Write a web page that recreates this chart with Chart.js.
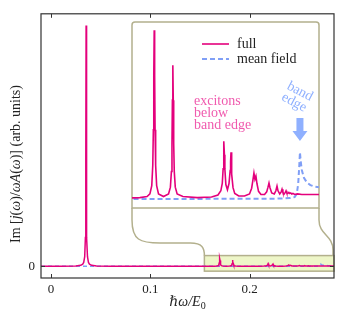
<!DOCTYPE html>
<html>
<head>
<meta charset="utf-8">
<script src="https://cdn.jsdelivr.net/npm/chart.js@4.4.0/dist/chart.umd.min.js"></script>
<style>
  html, body { margin: 0; padding: 0; background: #fff; }
  #wrap { position: relative; width: 337px; height: 314px; }
  #mainChart { position: absolute; left: 0; top: 0; }
  #insetChart { position: absolute; left: 132px; top: 22px; }
</style>
</head>
<body>
<div id="wrap">
  <canvas id="mainChart" width="337" height="314"></canvas>
  <canvas id="insetChart" width="187" height="186"></canvas>
</div>
<script>
// --- Data ---
const fullX = [-0.01, 0.010, 0.025, 0.030, 0.032, 0.033, 0.034, 0.0347, 0.0351, 0.0354, 0.0357, 0.0361, 0.0368, 0.0378, 0.0388, 0.041, 0.046, 0.060, 0.100,
  0.150, 0.160, 0.165, 0.167, 0.1683, 0.1690, 0.1694, 0.1697, 0.1700, 0.1703, 0.1706, 0.1710, 0.1717, 0.1730, 0.1765,
  0.1800, 0.1813, 0.1820, 0.1824, 0.1827, 0.1830, 0.1833, 0.1836, 0.1840, 0.1847, 0.1860, 0.1900, 0.2000,
  0.2100, 0.2145, 0.2165, 0.2175, 0.2181, 0.2184, 0.2187, 0.2190, 0.2193, 0.2200, 0.2211, 0.2222, 0.2230, 0.2233, 0.2236, 0.2239, 0.2242, 0.2250, 0.2262, 0.2290,
  0.2330, 0.2365, 0.2380, 0.2388, 0.2396, 0.2403, 0.2410, 0.2417, 0.2428, 0.2445,
  0.2470, 0.2485, 0.2494, 0.2501, 0.2508, 0.2520, 0.2538, 0.2549, 0.2557, 0.2564, 0.2576, 0.2586, 0.2592, 0.2598, 0.2607,
  0.2615, 0.2620, 0.2625, 0.2633, 0.2640, 0.2646, 0.2653, 0.2660, 0.2668, 0.2680, 0.2700, 0.2730, 0.2850];
const fullY = [0.0000, 0.0002, 0.0012, 0.004, 0.009, 0.016, 0.040, 0.12, 0.45, 1.000, 0.45, 0.12, 0.040, 0.016, 0.009, 0.004, 0.0012, 0.0004, 0.0002,
  0.0002, 0.0003, 0.0005, 0.0010, 0.0026, 0.0065, 0.0133, 0.0238, 0.0324, 0.0238, 0.0133, 0.0065, 0.0026, 0.0010, 0.0005,
  0.0010, 0.0023, 0.0053, 0.0107, 0.0190, 0.0257, 0.0190, 0.0107, 0.0053, 0.0023, 0.0010, 0.0005, 0.0003,
  0.0004, 0.0008, 0.0016, 0.0030, 0.0058, 0.0085, 0.0111, 0.0085, 0.0058, 0.0028, 0.0018, 0.0030, 0.0055, 0.0072, 0.0090, 0.0070, 0.0048, 0.0022, 0.0011, 0.0006,
  0.0006, 0.0010, 0.0021, 0.0035, 0.0050, 0.0038, 0.0044, 0.0030, 0.0015, 0.0009,
  0.0009, 0.0014, 0.0023, 0.0031, 0.0022, 0.0012, 0.0010, 0.0016, 0.0025, 0.0016, 0.0010, 0.0014, 0.0019, 0.0013, 0.0010,
  0.0013, 0.0016, 0.0012, 0.0011, 0.0013, 0.0011, 0.0012, 0.0010, 0.0011, 0.0009, 0.0010, 0.0009, 0.0009];

const meanX = [-0.01, 0.150, 0.255, 0.265, 0.268, 0.2695, 0.2705, 0.2712, 0.2717, 0.2722, 0.2730, 0.2745, 0.2765, 0.2790, 0.2820, 0.2850];
const meanY = [0.0000, 0.0000, 0.0001, 0.0002, 0.0004, 0.0010, 0.0030, 0.0062, 0.0090, 0.0074, 0.0056, 0.0041, 0.0032, 0.0027, 0.0024, 0.0023];

const xTicks = [0, 0.1, 0.2];
const yTicks = [0];

const mainXRange = [-0.01, 0.285];
const mainYRange = [-0.0486, 1.0486];
const zoomXRange = [0.1545, 0.285];     // highlighted window, also inset x range
const zoomYRange = [-0.0202, 0.0445];   // highlighted window height in main axes
const insetYRange = [-0.0017, 0.034];
const bandEdge = 0.2717;

// --- Styles ---
const fullColor = '#e4007c';
const meanColor = '#809ff6';
const frameColor = '#b3b08d';
const boxFill = '#eef6c8';
const pinkText = '#f05aae';
const blueText = '#8fb0ff';
const axisColor = '#333';
const serif = '"Liberation Serif", "DejaVu Serif", serif';

// inset placement on the page
const inset = { left: 132, top: 22, width: 187, height: 186 };

const toPts = (xs, ys) => xs.map((x, i) => ({ x: x, y: ys[i] }));

function measureRuns(ctx, runs) {
    let total = 0;
    runs.forEach(r => { ctx.font = r[1]; total += ctx.measureText(r[0]).width; });
    return total;
}

function drawRuns(ctx, runs, x, y) {
    // runs: [text, font, dy], drawn centred on x
    ctx.textAlign = 'left';
    let cx = x - measureRuns(ctx, runs) / 2;
    runs.forEach(r => {
        ctx.font = r[1];
        ctx.fillText(r[0], cx, y + (r[2] || 0));
        cx += ctx.measureText(r[0]).width;
    });
}

// --- Main axes decorations ---
const mainDeco = {
    id: 'mainDeco',
    beforeDatasetsDraw(chart) {
        const { ctx, scales: { x, y } } = chart;
        const x0 = x.getPixelForValue(zoomXRange[0]);
        const x1 = x.getPixelForValue(zoomXRange[1]);
        const y0 = y.getPixelForValue(zoomYRange[1]);
        const y1 = y.getPixelForValue(zoomYRange[0]);
        ctx.save();
        ctx.fillStyle = boxFill;
        ctx.fillRect(x0, y0, x1 - x0, y1 - y0);
        ctx.strokeStyle = frameColor;
        ctx.lineWidth = 1.5;
        ctx.strokeRect(x0, y0, x1 - x0, y1 - y0);
        ctx.restore();
    },
    afterDraw(chart) {
        const { ctx, chartArea: a, scales: { x, y } } = chart;
        ctx.save();

        // connectors from the inset to the highlighted window
        const bx0 = x.getPixelForValue(zoomXRange[0]);
        const bx1 = x.getPixelForValue(zoomXRange[1]);
        const by0 = y.getPixelForValue(zoomYRange[1]);
        const il = inset.left, ir = inset.left + inset.width, it = inset.top, ib = inset.top + inset.height;
        ctx.strokeStyle = frameColor;
        ctx.lineWidth = 1.5;
        ctx.beginPath();
        ctx.moveTo(il, ib);
        ctx.lineTo(il, ib + 12);
        ctx.bezierCurveTo(il, ib + 32, il + 8, ib + 35, il + 28, ib + 35);
        ctx.lineTo(bx0 - 14, ib + 35);
        ctx.bezierCurveTo(bx0 - 2, ib + 35, bx0, ib + 40, bx0, by0);
        ctx.stroke();
        ctx.beginPath();
        ctx.moveTo(ir, ib);
        ctx.lineTo(ir, ib + 12);
        ctx.bezierCurveTo(ir, ib + 27, bx1 - 1, ib + 27, bx1 - 1, ib + 42);
        ctx.lineTo(bx1 - 1, by0);
        ctx.stroke();

        // inset frame
        ctx.beginPath();
        ctx.roundRect(il, it, inset.width, inset.height, [3, 3, 0, 0]);
        ctx.stroke();

        // axes frame
        ctx.strokeStyle = axisColor;
        ctx.lineWidth = 1.2;
        ctx.strokeRect(a.left, a.top, a.right - a.left, a.bottom - a.top);

        // inward ticks
        ctx.lineWidth = 1;
        ctx.beginPath();
        xTicks.forEach(v => {
            const px = Math.round(x.getPixelForValue(v)) + 0.5;
            ctx.moveTo(px, a.bottom); ctx.lineTo(px, a.bottom - 4);
            ctx.moveTo(px, a.top); ctx.lineTo(px, a.top + 4);
        });
        yTicks.forEach(v => {
            const py = Math.round(y.getPixelForValue(v)) + 0.5;
            ctx.moveTo(a.left, py); ctx.lineTo(a.left + 4, py);
            ctx.moveTo(a.right, py); ctx.lineTo(a.right - 4, py);
        });
        ctx.stroke();

        // axis titles
        ctx.fillStyle = '#222';
        ctx.textBaseline = 'alphabetic';
        const rom = '14px ' + serif;
        const ita = 'italic 14px ' + serif;
        drawRuns(ctx, [['\u210Fω/E', ita], ['0', '10px ' + serif, 3]], (a.left + a.right) / 2, 306);

        // y title: "Im" ends just above the zero tick
        const yRuns = [['Im [', rom], ['j', ita], ['(', rom], ['ω', ita], [')/', rom], ['ωA', ita], ['(', rom], ['ω', ita], [')] (arb. units)', rom]];
        const len = measureRuns(ctx, yRuns);
        ctx.translate(20, 243 - len / 2);
        ctx.rotate(-Math.PI / 2);
        drawRuns(ctx, yRuns, 0, 0);
        ctx.restore();
    }
};

new Chart(document.getElementById('mainChart'), {
    type: 'line',
    data: {
        datasets: [
            { label: 'full', data: toPts(fullX, fullY), borderColor: fullColor, borderWidth: 1.5, pointRadius: 0, tension: 0 },
            { label: 'mean field', data: toPts(meanX, meanY), borderColor: meanColor, borderWidth: 1.5, borderDash: [4, 3], pointRadius: 0, tension: 0 }
        ]
    },
    options: {
        responsive: false,
        animation: false,
        layout: { padding: { left: 0, right: 3, top: 7, bottom: 0 } },
        plugins: { legend: { display: false }, tooltip: { enabled: false } },
        scales: {
            x: {
                type: 'linear', min: mainXRange[0], max: mainXRange[1],
                border: { display: false },
                grid: { display: false, drawTicks: false },
                afterBuildTicks: s => { s.ticks = xTicks.map(v => ({ value: v })); },
                afterFit: s => { s.height = 36; },
                ticks: { padding: 4, color: '#222', maxRotation: 0, autoSkip: false, font: { family: serif, size: 13 }, callback: v => String(v) }
            },
            y: {
                type: 'linear', min: mainYRange[0], max: mainYRange[1],
                border: { display: false },
                grid: { display: false, drawTicks: false },
                afterBuildTicks: s => { s.ticks = yTicks.map(v => ({ value: v })); },
                afterFit: s => { s.width = 41; },
                ticks: { padding: 6, color: '#222', font: { family: serif, size: 13 }, callback: v => String(v) }
            }
        }
    },
    plugins: [mainDeco]
});

// --- Inset ---
const insetDeco = {
    id: 'insetDeco',
    afterDraw(chart) {
        const { ctx, scales: { x } } = chart;
        ctx.save();
        ctx.textAlign = 'left';
        // legend
        const sets = chart.data.datasets;
        ctx.textBaseline = 'middle';
        ctx.font = '14px ' + serif;
        sets.forEach((ds, i) => {
            const ly = 22 + i * 15;
            ctx.strokeStyle = ds.borderColor;
            ctx.lineWidth = ds.borderWidth;
            ctx.setLineDash(ds.borderDash || []);
            ctx.beginPath();
            ctx.moveTo(70, ly); ctx.lineTo(97, ly);
            ctx.stroke();
            ctx.setLineDash([]);
            ctx.fillStyle = '#222';
            ctx.fillText(ds.label, 105, ly);
        });

        // annotation: excitons
        ctx.textBaseline = 'alphabetic';
        ctx.fillStyle = pinkText;
        ctx.font = '14px ' + serif;
        ['excitons', 'below', 'band edge'].forEach((t, i) => ctx.fillText(t, 62, 83 + i * 11.8));

        // annotation: band edge
        ctx.fillStyle = blueText;
        ctx.save();
        ctx.translate(165, 75);
        ctx.rotate(28 * Math.PI / 180);
        ctx.textAlign = 'center';
        ctx.textBaseline = 'middle';
        ctx.fillText('band', 0, -6.2);
        ctx.fillText('edge', 0, 6.2);
        ctx.restore();

        // arrow pointing at the band edge
        const ax = x.getPixelForValue(bandEdge);
        ctx.beginPath();
        ctx.moveTo(ax - 3.5, 96);
        ctx.lineTo(ax + 3.5, 96);
        ctx.lineTo(ax + 3.5, 109);
        ctx.lineTo(ax + 7.5, 109);
        ctx.lineTo(ax, 119);
        ctx.lineTo(ax - 7.5, 109);
        ctx.lineTo(ax - 3.5, 109);
        ctx.closePath();
        ctx.fill();
        ctx.restore();
    }
};

new Chart(document.getElementById('insetChart'), {
    type: 'line',
    data: {
        datasets: [
            { label: 'full', data: toPts(fullX, fullY), borderColor: fullColor, borderWidth: 1.6, pointRadius: 0, tension: 0 },
            { label: 'mean field', data: toPts(meanX, meanY), borderColor: meanColor, borderWidth: 2, borderDash: [5, 3], pointRadius: 0, tension: 0 }
        ]
    },
    options: {
        responsive: false,
        animation: false,
        layout: { padding: 0 },
        plugins: { legend: { display: false }, tooltip: { enabled: false } },
        scales: {
            x: { type: 'linear', display: false, min: zoomXRange[0], max: zoomXRange[1] },
            y: { type: 'linear', display: false, min: insetYRange[0], max: insetYRange[1] }
        }
    },
    plugins: [insetDeco]
});
</script>
</body>
</html>
